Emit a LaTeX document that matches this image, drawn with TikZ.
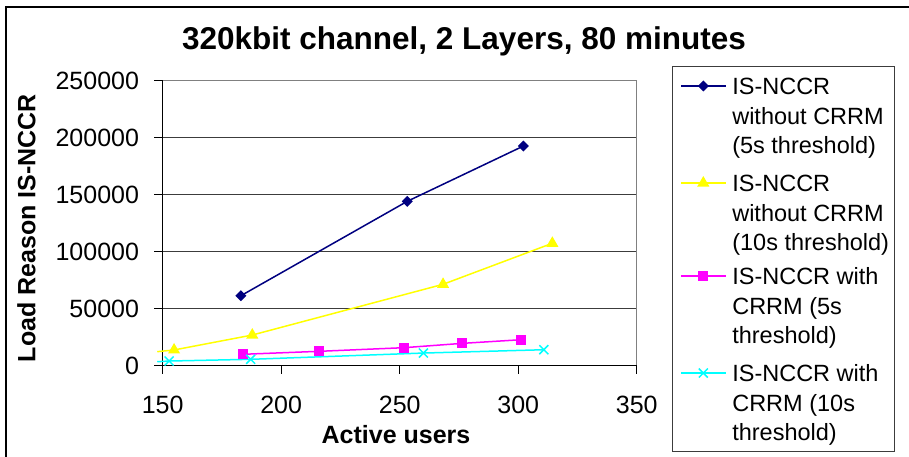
\documentclass[tikz,border=0pt]{standalone}
\usepackage{fontspec}
\setmainfont{Liberation Sans}
\usetikzlibrary{shapes.geometric,shapes.misc}

\definecolor{navyc}{RGB}{0,0,128}
\definecolor{yellowc}{RGB}{255,255,0}
\definecolor{magentac}{RGB}{255,0,255}
\definecolor{cyanc}{RGB}{0,255,255}
\definecolor{gridc}{RGB}{60,60,60}
\definecolor{borderc}{RGB}{128,128,128}

\tikzset{
  every node/.style={inner sep=0pt, outer sep=0pt},
  ticklabel/.style={font=\fontsize{25}{30}\selectfont},
  axistitle/.style={font=\bfseries\fontsize{25}{30}\selectfont},
  charttitle/.style={font=\bfseries\fontsize{31.5}{36}\selectfont},
  legendtext/.style={font=\fontsize{23.5}{29.7}\selectfont, anchor=base west},
  gridline/.style={gridc, line width=1pt},
  axisline/.style={black, line width=1pt},
  navyline/.style={navyc, line width=1.5pt},
  yellowline/.style={yellowc, line width=1.5pt},
  magentaline/.style={magentac, line width=1.5pt},
  cyanline/.style={cyanc, line width=1.5pt},
  dmark/.style={diamond, fill=navyc, minimum width=11pt, minimum height=11pt},
  tmark/.style={regular polygon, regular polygon sides=3, fill=yellowc, minimum size=14pt},
  smark/.style={rectangle, fill=magentac, minimum size=10pt},
  xmark/.style={cross out, draw=cyanc, line width=1.5pt, minimum size=9pt},
}

\begin{document}
\begin{tikzpicture}[x=1pt, y=-1pt]
\useasboundingbox (0,0) rectangle (909,457);
\clip (0,0) rectangle (909,457);
\fill[white] (0,0) rectangle (909,457);

% outer chart frame
\draw[line width=1.6pt, black] (912,7) -- (6,7) -- (6,460);

% chart title
\node[charttitle, anchor=base] (title) at (464,49.5) {320kbit channel, 2 Layers, 80 minutes};

% axis titles
\node[axistitle, rotate=90] (ytitle) at (26.5,228) {Load Reason IS-NCCR};
\node[axistitle] (xtitle) at (396,435) {Active users};

% plot area in data units (x: users, y: thousands)
\begin{scope}[shift={(-192.8,365.7)}, x=2.37pt, y=1.14pt]
  \foreach \v in {50,100,150,200}
    \draw[gridline] (150,\v) -- (350,\v);
  \draw[borderc, line width=1.2pt] (150,250) -- (350,250) -- (350,0);
  \draw[axisline] (150,0) -- (150,250);
  \draw[axisline] (150,0) -- (350,0);
  \foreach \v in {0,50,100,150,200,250}
    \draw[axisline] (150,\v) -- ++(-9pt,0pt);
  \foreach \v in {150,200,250,300,350}
    \draw[axisline] (\v,0) -- ++(0pt,-8pt);

  % tick labels
  \foreach \v/\t in {0/0,50/50000,100/100000,150/150000,200/200000,250/250000}
    \node[ticklabel, anchor=east, xshift=-23.7pt] (ylab\v) at (150,\v) {\t};
  \foreach \v in {150,200,250,300,350}
    \node[ticklabel, yshift=-39.3pt] (xlab\v) at (\v,0) {\v};

  % data points
  \coordinate (n1) at (183,61.4);
  \coordinate (n2) at (253.2,144.2);
  \coordinate (n3) at (302.2,192.7);

  \coordinate (y0) at (147.7,12.3);
  \coordinate (y1) at (154.8,13.8);
  \coordinate (y2) at (187.8,26.9);
  \coordinate (y3) at (268.3,71.4);
  \coordinate (y4) at (314.4,107.4);

  \coordinate (m1) at (183.8,10.0);
  \coordinate (m2) at (215.8,12.6);
  \coordinate (m3) at (251.8,15.8);
  \coordinate (m4) at (276.4,19.6);
  \coordinate (m5) at (301.3,22.8);

  \coordinate (c0) at (147.7,3.5);
  \coordinate (c1) at (152.7,4.1);
  \coordinate (c2) at (187.1,5.6);
  \coordinate (c3) at (260,11.1);
  \coordinate (c4) at (310.8,14.0);

  % series lines
  \draw[navyline] (n1) -- (n2) -- (n3);
  \draw[yellowline] (y0) -- (y1) -- (y2) -- (y3) -- (y4);
  \draw[magentaline] (m1) -- (m2) -- (m3) -- (m4) -- (m5);
  \draw[cyanline] (c0) -- (c1) -- (c2) -- (c3) -- (c4);

  % markers
  \foreach \p in {n1,n2,n3} \node[dmark] at (\p) {};
  \foreach \p in {y1,y2,y3,y4} \node[tmark] at (\p) {};
  \foreach \p in {m1,m2,m3,m4,m5} \node[smark] at (\p) {};
  \foreach \p in {c1,c2,c3,c4} \node[xmark] at (\p) {};
\end{scope}

% legend
\draw[line width=1pt, gridc] (672,67) rectangle (894,451.7);

\coordinate (k1a) at (681,86);    \coordinate (k1b) at (725.7,86);
\coordinate (k2a) at (681,183);   \coordinate (k2b) at (725.7,183);
\coordinate (k3a) at (681,276);   \coordinate (k3b) at (725.7,276);
\coordinate (k4a) at (681,373);   \coordinate (k4b) at (725.7,373);

\draw[navyline] (k1a) -- (k1b);
\draw[yellowline] (k2a) -- (k2b);
\draw[magentaline] (k3a) -- (k3b);
\draw[cyanline] (k4a) -- (k4b);
\node[dmark] (k1m) at (703.3,86) {};
\node[tmark] (k2m) at (703.3,183) {};
\node[smark] (k3m) at (703.3,276) {};
\node[xmark] (k4m) at (703.3,373) {};

\node[legendtext] (t1a) at (732.3,94.4) {IS-NCCR};
\node[legendtext] (t1b) at (732.3,124.1) {without CRRM};
\node[legendtext] (t1c) at (732.3,153.8) {(5s threshold)};

\node[legendtext] (t2a) at (732.3,191.4) {IS-NCCR};
\node[legendtext] (t2b) at (732.3,221.1) {without CRRM};
\node[legendtext] (t2c) at (732.3,250.8) {(10s threshold)};

\node[legendtext] (t3a) at (732.3,284.4) {IS-NCCR with};
\node[legendtext] (t3b) at (732.3,314.1) {CRRM (5s};
\node[legendtext] (t3c) at (732.3,343.8) {threshold)};

\node[legendtext] (t4a) at (732.3,381.4) {IS-NCCR with};
\node[legendtext] (t4b) at (732.3,411.1) {CRRM (10s};
\node[legendtext] (t4c) at (732.3,440.8) {threshold)};
\end{tikzpicture}
\end{document}
